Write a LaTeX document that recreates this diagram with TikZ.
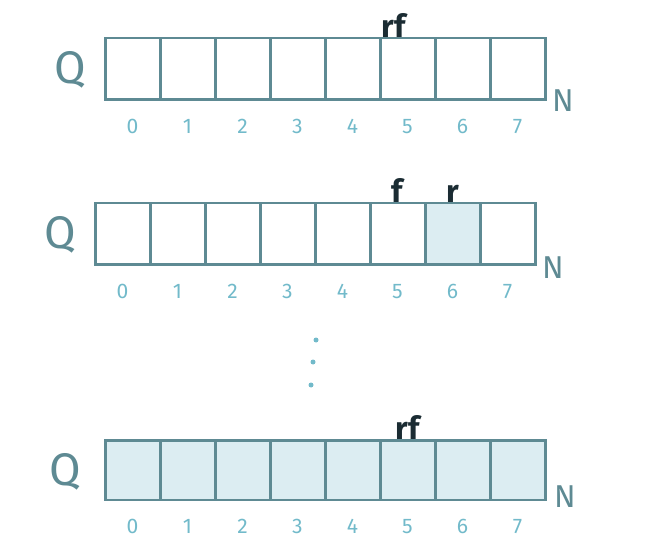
\documentclass[tikz,border=0pt]{standalone}
\usepackage{fontspec}
\setmainfont{Fira Sans}
\usepackage{tikz}
\usetikzlibrary{positioning}

\definecolor{qline}{HTML}{5E8A93}
\definecolor{qfill}{HTML}{DCEDF2}
\definecolor{qidx}{HTML}{72BACA}
\definecolor{qptr}{HTML}{1B2C33}

\begin{document}
\begin{tikzpicture}[
  x=0.02cm, y=-0.02cm,
  cell/.style={draw=qline, line width=1.7pt, minimum width=1.1cm, minimum height=1.24cm, inner sep=0pt},
  full/.style={cell, fill=qfill},
  idx/.style={text=qidx, font=\large, inner sep=0pt},
  qname/.style={text=qline, font=\fontsize{26}{26}\selectfont},
  nname/.style={text=qline, font=\fontsize{18}{18}\selectfont},
  ptr/.style={text=qptr, font=\fontsize{18}{18}\selectfont\bfseries, inner sep=1pt}
]
\useasboundingbox (0,0) rectangle (668,553);

% first queue: empty, r and f at 5
\foreach \i in {0,...,7} {
  \node[cell] (a\i) at (132.5+55*\i, 69) {};
  \node[idx, below=10pt of a\i] {\i};
}
\node[qname] (qa) at (70, 70) {Q};
\node[nname] (na) at (563, 101) {N};
\node[ptr, above=-2pt of a5, xshift=-8pt] (rfa) {rf};

% second queue: one element at 6
\foreach \i in {0,...,7} {
  \node[cell] (b\i) at (122.5+55*\i, 234) {};
  \node[idx, below=10pt of b\i] {\i};
}
\node[full] (b6) at (452.5, 234) {};
\node[qname] (qb) at (60, 235) {Q};
\node[nname] (nb) at (553, 268) {N};
\node[ptr, above=-2pt of b5] (fb) {f};
\node[ptr, above=-2pt of b6] (rb) {r};

% dots
\fill[qidx] (316,340) circle (2.5) (313,362) circle (2.5) (311,385) circle (2.5);

% third queue: full, r and f at 5
\foreach \i in {0,...,7} {
  \node[full, minimum height=1.2cm] (c\i) at (132.5+55*\i, 470) {};
  \node[idx, below=10pt of c\i] {\i};
}
\node[qname] (qc) at (65, 472) {Q};
\node[nname] (nc) at (565, 497) {N};
\node[ptr, above=-2pt of c5] (rfc) {rf};
\end{tikzpicture}
\end{document}
